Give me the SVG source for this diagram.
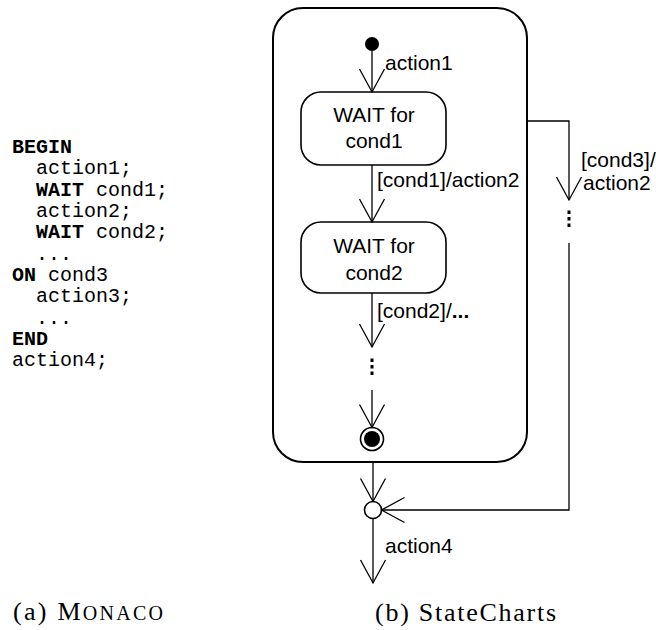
<svg xmlns="http://www.w3.org/2000/svg" width="656" height="630" viewBox="0 0 656 630">
  <style>
    .code { font-family: "Liberation Mono", "DejaVu Sans Mono", monospace; font-size: 20px; fill: #000; }
    .kw { font-weight: bold; }
    .lbl { font-family: "Liberation Sans", Arial, sans-serif; font-size: 21px; fill: #000; }
    .cap { font-family: "Liberation Serif", "Times New Roman", serif; font-size: 26px; fill: #000; }
    .state { fill: #fff; stroke: #000; stroke-width: 1.6; }
    .edge { fill: none; stroke: #000; stroke-width: 1.3; }
  </style>
  <defs>
    <!-- open V arrowhead, tip at the end of the line -->
    <marker id="arrow" markerUnits="userSpaceOnUse" viewBox="-26 -15 30 30" refX="0" refY="0"
            markerWidth="30" markerHeight="30" orient="auto" overflow="visible">
      <path d="M-23,-12.5 L0,0 L-23,12.5" fill="none" stroke="#000" stroke-width="1.3"/>
    </marker>
  </defs>

  <rect width="656" height="630" fill="#fff"/>

  <!-- program text -->
  <g id="code">
    <text class="code" x="12" y="153"><tspan class="kw">BEGIN</tspan></text>
    <text class="code" x="36" y="174.3">action1;</text>
    <text class="code" x="36" y="195.6"><tspan class="kw">WAIT</tspan> cond1;</text>
    <text class="code" x="36" y="217">action2;</text>
    <text class="code" x="36" y="238.3"><tspan class="kw">WAIT</tspan> cond2;</text>
    <text class="code" x="36" y="259.6">...</text>
    <text class="code" x="12" y="281"><tspan class="kw">ON</tspan> cond3</text>
    <text class="code" x="36" y="302.3">action3;</text>
    <text class="code" x="36" y="323.6">...</text>
    <text class="code" x="12" y="345"><tspan class="kw">END</tspan></text>
    <text class="code" x="12" y="366.3">action4;</text>
  </g>

  <!-- enclosing superstate -->
  <g id="superstate">
    <rect x="273" y="8" width="254" height="454" rx="30" ry="30" fill="none" stroke="#000" stroke-width="2"/>
  </g>

  <g id="initial">
    <circle cx="372" cy="44" r="7" fill="#000"/>
  </g>

  <g id="wait1">
    <rect class="state" x="301" y="92" width="145" height="73" rx="20" ry="20"/>
    <text class="lbl" x="374" y="122" text-anchor="middle">WAIT for</text>
    <text class="lbl" x="374" y="148" text-anchor="middle">cond1</text>
  </g>

  <g id="wait2">
    <rect class="state" x="301" y="222" width="145" height="71" rx="20" ry="20"/>
    <text class="lbl" x="374" y="253" text-anchor="middle">WAIT for</text>
    <text class="lbl" x="374" y="280" text-anchor="middle">cond2</text>
  </g>

  <g id="final">
    <circle cx="372" cy="439" r="11.5" fill="#fff" stroke="#000" stroke-width="1.6"/>
    <circle cx="372" cy="439" r="8" fill="#000"/>
  </g>

  <g id="junction">
    <circle cx="373" cy="510" r="8.5" fill="#fff" stroke="#000" stroke-width="1.6"/>
  </g>

  <!-- transitions -->
  <g id="connectors">
    <line class="edge" x1="372" y1="51" x2="372" y2="92" marker-end="url(#arrow)"/>
    <line class="edge" x1="372" y1="165" x2="372" y2="222" marker-end="url(#arrow)"/>
    <line class="edge" x1="372" y1="293" x2="372" y2="347" marker-end="url(#arrow)"/>
    <g fill="#000">
      <rect x="370.5" y="358.5" width="3" height="3.5"/>
      <rect x="370.5" y="365" width="3" height="3.5"/>
      <rect x="370.5" y="371.5" width="3" height="3.5"/>
    </g>
    <line class="edge" x1="372" y1="390" x2="372" y2="427.5" marker-end="url(#arrow)"/>

    <line class="edge" x1="373" y1="462" x2="373" y2="501.5" marker-end="url(#arrow)"/>
    <polyline class="edge" points="527,121 569,121 569,200" marker-end="url(#arrow)"/>
    <g fill="#000">
      <rect x="567.5" y="210.5" width="3" height="3.5"/>
      <rect x="567.5" y="217" width="3" height="3.5"/>
      <rect x="567.5" y="223.5" width="3" height="3.5"/>
    </g>
    <polyline class="edge" points="569,243 569,510 381.5,510" marker-end="url(#arrow)"/>
    <line class="edge" x1="373" y1="518.5" x2="373" y2="583" marker-end="url(#arrow)"/>

    <text class="lbl" x="385" y="70">action1</text>
    <text class="lbl" x="377" y="187">[cond1]/action2</text>
    <text class="lbl" x="377" y="318">[cond2]/<tspan font-weight="bold">...</tspan></text>
    <text class="lbl" x="581" y="167">[cond3]/</text>
    <text class="lbl" x="583" y="190">action2</text>
    <text class="lbl" x="385" y="553">action4</text>
  </g>

  <!-- captions -->
  <text class="cap" x="13" y="620" textLength="150" lengthAdjust="spacing">(a) M<tspan font-size="20">ONACO</tspan></text>
  <text class="cap" x="375" y="621" textLength="181" lengthAdjust="spacing">(b) StateCharts</text>
</svg>
